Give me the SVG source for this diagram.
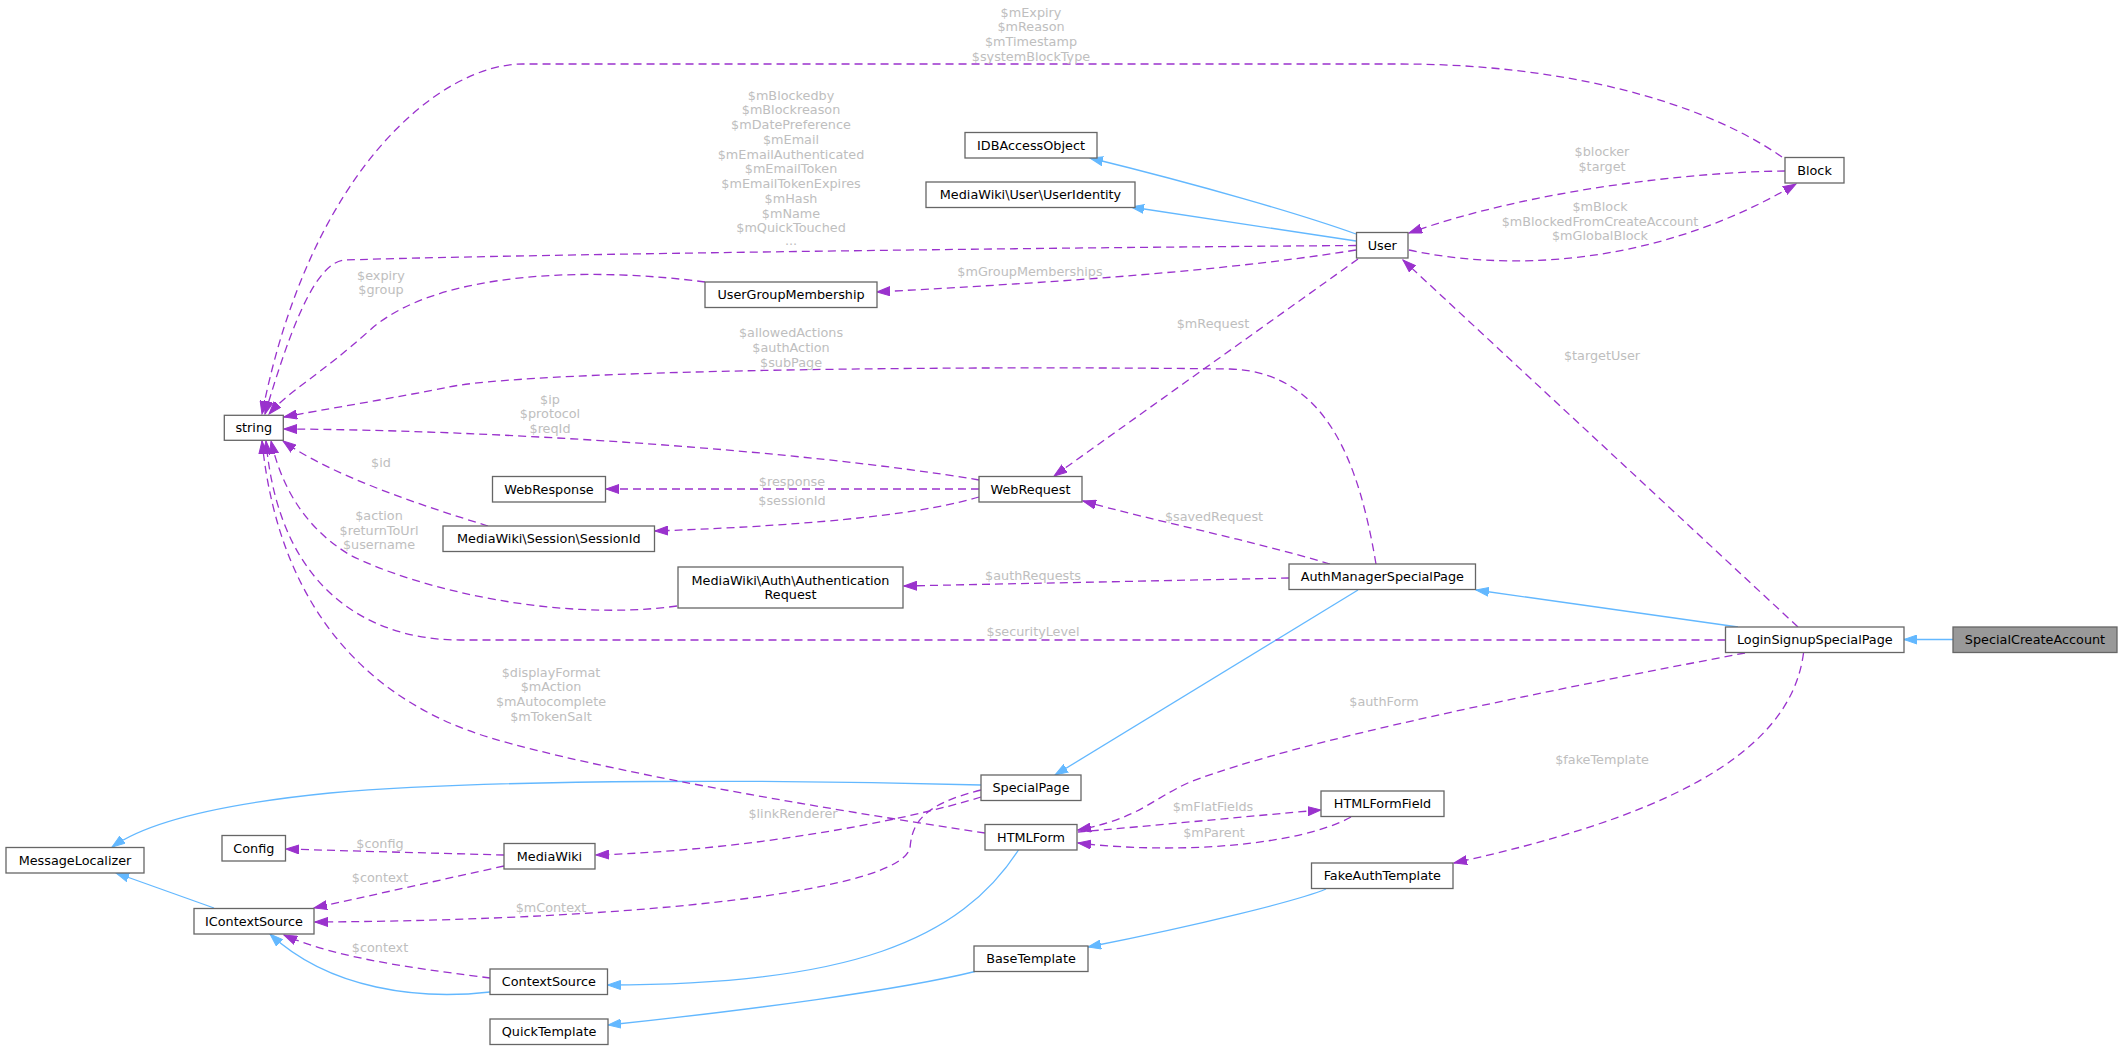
<svg xmlns="http://www.w3.org/2000/svg" width="2123" height="1050" viewBox="0 0 2123 1050">
<defs>
<style>
.n rect{fill:#ffffff;stroke:#666666;stroke-width:1.3}
.n rect.focus{fill:#999999}
text{font-family:"DejaVu Sans","Liberation Sans",sans-serif;font-size:12.8px;text-anchor:middle}
.n text{fill:#000000}
.l{fill:#bebebe}
.m{fill:none;stroke:#9a32cd;stroke-width:1.3;stroke-dasharray:8,5;marker-end:url(#ap)}
.h{fill:none;stroke:#63b8ff;stroke-width:1.3;marker-end:url(#ab)}
</style>
<marker id="ap" markerWidth="14" markerHeight="10" refX="13" refY="5" orient="auto" markerUnits="userSpaceOnUse"><path d="M0,0.5 L13,5 L0,9.5 z" fill="#9a32cd" stroke="#9a32cd" stroke-width="1"/></marker>
<marker id="ab" markerWidth="14" markerHeight="10" refX="13" refY="5" orient="auto" markerUnits="userSpaceOnUse"><path d="M0,0.5 L13,5 L0,9.5 z" fill="#63b8ff" stroke="#63b8ff" stroke-width="1"/></marker>
</defs>
<rect x="0" y="0" width="2123" height="1050" fill="#ffffff"/>
<g id="edges">
<!-- inheritance -->
<path class="h" d="M1953,639.5 L1904,639.5"/>
<path class="h" d="M1738,627 L1476,590"/>
<path class="h" d="M1358,590 L1055,775"/>
<path class="h" d="M981,785 C800,780 500,778 330,793 C230,803 150,820 112,847"/>
<path class="h" d="M214,908 L116,873"/>
<path class="h" d="M490,992 C420,1000 330,990 270,934"/>
<path class="h" d="M1018.5,850 C960,940 850,985 607.5,985"/>
<path class="h" d="M975,971.5 C900,990 750,1010 608,1025"/>
<path class="h" d="M1326,889 C1300,900 1200,925 1088,947"/>
<path class="h" d="M1356,234 C1300,214 1200,185 1090,158"/>
<path class="h" d="M1356,241 L1131,207"/>
<!-- members -->
<path class="m" d="M1782,157 C1700,100 1560,64 1401,64 L523,64 C440,64 310,170 262,414"/>
<text class="l" x="1031" y="16.5">$mExpiry</text>
<text class="l" x="1031" y="31.2">$mReason</text>
<text class="l" x="1031" y="45.9">$mTimestamp</text>
<text class="l" x="1031" y="60.6">$systemBlockType</text>
<path class="m" d="M1785,171 C1690,172 1530,190 1409,233"/>
<text class="l" x="1602" y="156">$blocker</text>
<text class="l" x="1602" y="171">$target</text>
<path class="m" d="M1409,250 C1500,270 1650,270 1796,184"/>
<text class="l" x="1600" y="211">$mBlock</text>
<text class="l" x="1600" y="225.6">$mBlockedFromCreateAccount</text>
<text class="l" x="1600" y="240.3">$mGlobalBlock</text>
<path class="m" d="M1356,245.5 C1000,248 500,255 345,260 C315,262 290,330 265,414"/>
<text class="l" x="791" y="99.5">$mBlockedby</text>
<text class="l" x="791" y="114.3">$mBlockreason</text>
<text class="l" x="791" y="129">$mDatePreference</text>
<text class="l" x="791" y="143.8">$mEmail</text>
<text class="l" x="791" y="158.6">$mEmailAuthenticated</text>
<text class="l" x="791" y="173.4">$mEmailToken</text>
<text class="l" x="791" y="188.1">$mEmailTokenExpires</text>
<text class="l" x="791" y="202.9">$mHash</text>
<text class="l" x="791" y="217.7">$mName</text>
<text class="l" x="791" y="232.4">$mQuickTouched</text>
<text class="l" x="791" y="245">...</text>
<path class="m" d="M1356,250 C1200,275 1000,285 877,292"/>
<text class="l" x="1030" y="275.5">$mGroupMemberships</text>
<path class="m" d="M705,282 C600,268 440,268 370,330 C320,375 290,390 269,414"/>
<text class="l" x="381" y="279.5">$expiry</text>
<text class="l" x="381" y="294">$group</text>
<path class="m" d="M1358,259 L1054,476"/>
<text class="l" x="1213" y="327.5">$mRequest</text>
<path class="m" d="M1798,627 L1403,260"/>
<text class="l" x="1602" y="359.5">$targetUser</text>
<path class="m" d="M1376,564 C1360,470 1330,372 1230,369 C900,365 520,372 449,387 C400,397 320,410 284,417"/>
<text class="l" x="791" y="337">$allowedActions</text>
<text class="l" x="791" y="351.7">$authAction</text>
<text class="l" x="791" y="366.5">$subPage</text>
<path class="m" d="M979,480 C800,450 500,430 284,429"/>
<text class="l" x="550" y="403.5">$ip</text>
<text class="l" x="550" y="418">$protocol</text>
<text class="l" x="550" y="432.5">$reqId</text>
<path class="m" d="M979,489 L606,489"/>
<text class="l" x="792" y="485.5">$response</text>
<path class="m" d="M979,497 C930,512 830,525 655,531"/>
<text class="l" x="792" y="504.5">$sessionId</text>
<path class="m" d="M488,526 C420,505 330,475 283,441"/>
<text class="l" x="381" y="467">$id</text>
<path class="m" d="M1330,564 C1250,540 1150,520 1083,501"/>
<text class="l" x="1214" y="520.5">$savedRequest</text>
<path class="m" d="M1289,578 C1150,581 1000,584 904,586"/>
<text class="l" x="1033" y="579.5">$authRequests</text>
<path class="m" d="M677,606 C560,622 420,590 350,555 C300,525 280,480 271,441"/>
<text class="l" x="379" y="520">$action</text>
<text class="l" x="379" y="534.7">$returnToUrl</text>
<text class="l" x="379" y="549.3">$username</text>
<path class="m" d="M1725.5,640 L460,640 C380,640 280,600 266,441"/>
<text class="l" x="1033" y="635.5">$securityLevel</text>
<path class="m" d="M985,833 C800,805 600,770 491,738 C380,705 280,620 262,441"/>
<text class="l" x="551" y="676.5">$displayFormat</text>
<text class="l" x="551" y="691.2">$mAction</text>
<text class="l" x="551" y="706">$mAutocomplete</text>
<text class="l" x="551" y="720.7">$mTokenSalt</text>
<path class="m" d="M1745,653 C1550,690 1300,740 1190,782 C1150,800 1140,818 1078,830"/>
<text class="l" x="1384" y="705.5">$authForm</text>
<path class="m" d="M1803.5,653 C1790,760 1650,820 1454,863"/>
<text class="l" x="1602" y="763.5">$fakeTemplate</text>
<path class="m" d="M1078,832 C1150,826 1250,816 1321,810"/>
<text class="l" x="1213" y="811">$mFlatFields</text>
<path class="m" d="M1351,817 C1300,845 1180,855 1078,843"/>
<text class="l" x="1214" y="837">$mParent</text>
<path class="m" d="M981,797 C900,822 750,850 596,855"/>
<text class="l" x="793" y="817.5">$linkRenderer</text>
<path class="m" d="M981,790 C920,805 912,825 910,848 C900,890 650,920 315,922"/>
<text class="l" x="551" y="911.5">$mContext</text>
<path class="m" d="M504,855 C430,853 350,851 286,849"/>
<text class="l" x="380" y="847.5">$config</text>
<path class="m" d="M504,866 L314,908"/>
<text class="l" x="380" y="881.5">$context</text>
<path class="m" d="M490,978 C430,970 340,960 284,935"/>
<text class="l" x="380" y="951.5">$context</text>
</g>
<g id="SpecialCreateAccount" class="n"><rect class="focus" x="1953" y="627" width="164" height="25.5"/><text x="2035" y="644.3">SpecialCreateAccount</text></g>
<g id="LoginSignupSpecialPage" class="n"><rect x="1725.5" y="627" width="178.5" height="25.5"/><text x="1814.8" y="644.3">LoginSignupSpecialPage</text></g>
<g id="AuthManagerSpecialPage" class="n"><rect x="1289" y="564" width="186.5" height="25.5"/><text x="1382.3" y="581.3">AuthManagerSpecialPage</text></g>
<g id="SpecialPage" class="n"><rect x="981" y="775" width="100" height="25.5"/><text x="1031" y="792.3">SpecialPage</text></g>
<g id="HTMLForm" class="n"><rect x="985" y="824.5" width="92" height="25.5"/><text x="1031" y="841.8">HTMLForm</text></g>
<g id="HTMLFormField" class="n"><rect x="1321" y="791" width="123" height="25.5"/><text x="1382.5" y="808.3">HTMLFormField</text></g>
<g id="FakeAuthTemplate" class="n"><rect x="1311.5" y="863" width="141.5" height="25.5"/><text x="1382.3" y="880.3">FakeAuthTemplate</text></g>
<g id="BaseTemplate" class="n"><rect x="974" y="946" width="114" height="25.5"/><text x="1031" y="963.3">BaseTemplate</text></g>
<g id="QuickTemplate" class="n"><rect x="490" y="1019" width="118" height="25.5"/><text x="549" y="1036.3">QuickTemplate</text></g>
<g id="ContextSource" class="n"><rect x="490" y="969" width="117.5" height="25.5"/><text x="548.8" y="986.3">ContextSource</text></g>
<g id="IContextSource" class="n"><rect x="194" y="908.5" width="120" height="25.5"/><text x="254" y="925.8">IContextSource</text></g>
<g id="MessageLocalizer" class="n"><rect x="6" y="847.5" width="138" height="25.5"/><text x="75" y="864.8">MessageLocalizer</text></g>
<g id="Config" class="n"><rect x="222" y="835.5" width="63.5" height="25.5"/><text x="253.8" y="852.8">Config</text></g>
<g id="MediaWiki" class="n"><rect x="504" y="843.5" width="91" height="25.5"/><text x="549.5" y="860.8">MediaWiki</text></g>
<g id="string" class="n"><rect x="224.3" y="415.3" width="59" height="25"/><text x="253.8" y="432.4">string</text></g>
<g id="WebResponse" class="n"><rect x="492.5" y="476.5" width="113" height="25.5"/><text x="549" y="493.8">WebResponse</text></g>
<g id="WebRequest" class="n"><rect x="979" y="476.5" width="103" height="25.5"/><text x="1030.5" y="493.8">WebRequest</text></g>
<g id="SessionId" class="n"><rect x="443" y="526" width="211.5" height="25.5"/><text x="548.8" y="543.3">MediaWiki\Session\SessionId</text></g>
<g id="AuthenticationRequest" class="n"><rect x="678" y="567" width="225" height="41"/><text x="790.5" y="584.5">MediaWiki\Auth\Authentication</text><text x="790.5" y="599">Request</text></g>
<g id="UserGroupMembership" class="n"><rect x="705" y="282" width="172" height="25.5"/><text x="791" y="299.3">UserGroupMembership</text></g>
<g id="IDBAccessObject" class="n"><rect x="965" y="132.5" width="132" height="25.5"/><text x="1031" y="149.8">IDBAccessObject</text></g>
<g id="UserIdentity" class="n"><rect x="926" y="182" width="209" height="25.5"/><text x="1030.5" y="199.3">MediaWiki\User\UserIdentity</text></g>
<g id="User" class="n"><rect x="1356.5" y="232.5" width="51.5" height="25.5"/><text x="1382.3" y="249.8">User</text></g>
<g id="Block" class="n"><rect x="1785" y="157.5" width="59" height="25.5"/><text x="1814.5" y="174.8">Block</text></g>
</svg>
